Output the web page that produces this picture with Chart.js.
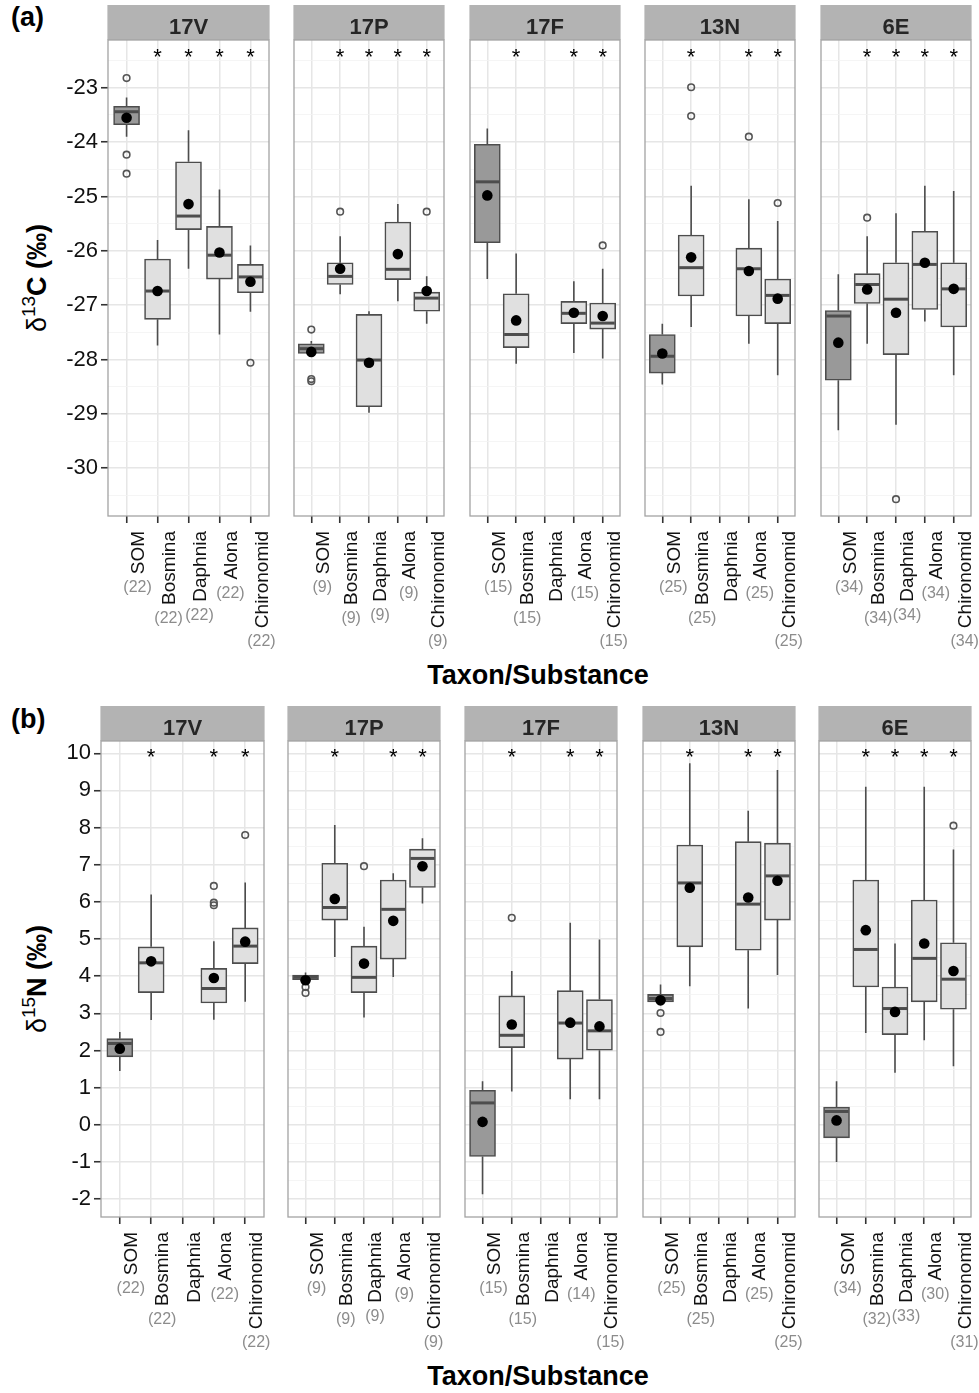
<!DOCTYPE html>
<html>
<head>
<meta charset="utf-8">
<title>Stable isotopes by taxon and site</title>
<script src="https://cdn.jsdelivr.net/npm/chart.js@4.4.1/dist/chart.umd.min.js"></script>
<style>
  html, body { margin: 0; padding: 0; background: #fff; }
  body { position: relative; width: 979px; height: 1393px; overflow: hidden;
         font-family: "Liberation Sans", Arial, Helvetica, sans-serif; color: #000; }
  canvas { position: absolute; }
  .tag { position: absolute; font-weight: bold; font-size: 27px; line-height: 27px; }
  .xtitle { position: absolute; width: 400px; margin-left: -200px; text-align: center;
            font-weight: bold; font-size: 27px; line-height: 27px; }
  .ytitle { position: absolute; white-space: nowrap; font-weight: bold; font-size: 27px; line-height: 27px;
            transform: translate(-50%, -50%) rotate(-90deg); }
  .ytitle .delta { font-weight: normal; }
  .ytitle .sup { font-size: 19px; position: relative; top: -11px; font-weight: normal; }
</style>
</head>
<body>
<div class="tag" style="left:11px;top:4px">(a)</div>
<div class="tag" style="left:11px;top:706px">(b)</div>
<div class="ytitle" style="left:38px;top:278px"><span class="delta">δ</span><span class="sup">13</span>C (‰)</div>
<div class="ytitle" style="left:38px;top:979px"><span class="delta">δ</span><span class="sup">15</span>N (‰)</div>
<div class="xtitle" style="left:538px;top:662px">Taxon/Substance</div>
<div class="xtitle" style="left:538px;top:1363px">Taxon/Substance</div>

<script>
const sites = ['17V', '17P', '17F', '13N', '6E'];
const taxa = ['SOM', 'Bosmina', 'Daphnia', 'Alona', 'Chironomid'];

// (a) d13C - one row per site, one column per taxon, null = no sample
const c13Low = [
  [-23.90, -27.74, -26.33, -27.54, -27.12],
  [-27.92, -26.80, -28.98, -26.93, -27.34],
  [-26.52, -28.08, null, -27.88, -27.98],
  [-28.46, -27.40, null, -27.71, -28.29],
  [-29.30, -27.71, -29.20, -27.30, -28.29]
];
const c13Q1 = [
  [-23.68, -27.26, -25.61, -26.52, -26.77],
  [-27.89, -26.62, -28.87, -26.53, -27.11],
  [-25.85, -27.78, null, -27.34, -27.44],
  [-28.25, -26.83, null, -27.20, -27.34],
  [-28.38, -26.97, -27.91, -27.08, -27.40]
];
const c13Median = [
  [-23.44, -26.74, -25.36, -26.08, -26.48],
  [-27.80, -26.47, -28.01, -26.34, -26.87],
  [-24.73, -27.54, null, -27.15, -27.33],
  [-27.94, -26.31, null, -26.33, -26.82],
  [-27.20, -26.62, -26.89, -26.25, -26.70]
];
const c13Q3 = [
  [-23.34, -26.15, -24.36, -25.55, -26.25],
  [-27.71, -26.22, -27.17, -25.47, -26.76],
  [-24.04, -26.79, null, -26.93, -26.96],
  [-27.54, -25.71, null, -25.95, -26.52],
  [-27.10, -26.42, -26.22, -25.64, -26.22]
];
const c13High = [
  [-23.18, -25.80, -23.78, -24.87, -25.90],
  [-27.66, -25.73, -27.11, -25.14, -26.47],
  [-23.75, -26.05, null, -26.56, -26.33],
  [-27.34, -24.80, null, -25.05, -25.45],
  [-26.43, -25.73, -25.31, -24.80, -24.90]
];
const c13Mean = [
  [-23.55, -26.74, -25.14, -26.03, -26.57],
  [-27.86, -26.33, -28.06, -26.06, -26.74],
  [-24.98, -27.28, null, -27.14, -27.20],
  [-27.89, -26.12, null, -26.37, -26.88],
  [-27.69, -26.71, -27.14, -26.22, -26.70]
];
const c13Outliers = [
  [[-22.82, -24.23, -24.58], [], [], [], [-28.06]],
  [[-27.45, -28.36, -28.40], [-25.28], [], [], [-25.28]],
  [[], [], [], [], [-25.90]],
  [[], [-22.99, -23.52], [], [-23.90], [-25.12]],
  [[], [-25.39], [-30.57], [], []]
];
const c13Stars = [
  [0, 1, 1, 1, 1],
  [0, 1, 1, 1, 1],
  [0, 1, 0, 1, 1],
  [0, 1, 0, 1, 1],
  [0, 1, 1, 1, 1]
];
const c13Counts = [
  [22, 22, 22, 22, 22],
  [9, 9, 9, 9, 9],
  [15, 15, null, 15, 15],
  [25, 25, null, 25, 25],
  [34, 34, 34, 34, 34]
];
const c13TickValues = [-30, -29, -28, -27, -26, -25, -24, -23];
const c13Range = [-30.88, -22.12];
const c13StarLevel = -22.34;

// (b) d15N
const n15Low = [
  [1.45, 2.82, null, 2.83, 3.31],
  [3.91, 4.52, 2.89, 3.98, 5.96],
  [-1.87, 0.90, null, 0.69, 0.69],
  [3.31, 3.73, null, 3.13, 4.03],
  [-1.00, 2.47, 1.40, 2.28, 1.58]
];
const n15Q1 = [
  [1.83, 3.56, null, 3.28, 4.34],
  [3.91, 5.51, 3.56, 4.46, 6.39],
  [-0.85, 2.08, null, 1.77, 2.01],
  [3.31, 4.79, null, 4.70, 5.51],
  [-0.35, 3.71, 2.43, 3.31, 3.11]
];
const n15Median = [
  [2.19, 4.36, null, 3.67, 4.81],
  [3.98, 5.85, 3.97, 5.80, 7.17],
  [0.59, 2.41, null, 2.74, 2.53],
  [3.40, 6.51, null, 5.94, 6.70],
  [0.36, 4.72, 3.13, 4.48, 3.92]
];
const n15Q3 = [
  [2.32, 4.79, null, 4.21, 5.30],
  [4.03, 7.04, 4.81, 6.59, 7.42],
  [0.93, 3.47, null, 3.61, 3.37],
  [3.51, 7.53, null, 7.62, 7.58],
  [0.48, 6.59, 3.71, 6.05, 4.90]
];
const n15High = [
  [2.50, 6.20, null, 4.94, 6.52],
  [4.10, 8.07, 5.33, 6.77, 7.71],
  [1.17, 4.14, null, 5.44, 4.99],
  [3.78, 9.73, null, 8.45, 9.55],
  [1.17, 9.10, 4.88, 9.10, 7.41]
];
const n15Mean = [
  [2.05, 4.40, null, 3.95, 4.93],
  [3.89, 6.08, 4.34, 5.49, 6.96],
  [0.08, 2.70, null, 2.75, 2.65],
  [3.35, 6.38, null, 6.12, 6.57],
  [0.12, 5.24, 3.04, 4.88, 4.14]
];
const n15Outliers = [
  [[], [], [], [6.43, 5.98, 5.91], [7.80]],
  [[3.71, 3.55], [], [6.96], [], []],
  [[], [5.57], [], [], []],
  [[3.01, 2.50], [], [], [], []],
  [[], [], [], [], [8.05]]
];
const n15Stars = [
  [0, 1, 0, 1, 1],
  [0, 1, 0, 1, 1],
  [0, 1, 0, 1, 1],
  [0, 1, 0, 1, 1],
  [0, 1, 1, 1, 1]
];
const n15Counts = [
  [22, 22, null, 22, 22],
  [9, 9, 9, 9, 9],
  [15, 15, null, 14, 15],
  [25, 25, null, 25, 25],
  [34, 32, 33, 30, 31]
];
const n15TickValues = [-2, -1, 0, 1, 2, 3, 4, 5, 6, 7, 8, 9, 10];
const n15Range = [-2.48, 10.33];
const n15StarLevel = 10.06;

// look
const FONT = '"Liberation Sans", Arial, Helvetica, sans-serif';
const EDGE = '#4d4d4d';
const SOM_FILL = '#999999';
const TAXON_FILL = '#e0e0e0';
const GRID_MAJOR = '#e6e6e6';
const GRID_MINOR = '#f2f2f2';
const BORDER = '#a3a3a3';
const STRIP_FILL = '#b3b3b3';
const STRIP_TEXT = '#262626';
const TICK_COLOR = '#333333';
const LABEL_COLOR = '#111111';
const COUNT_COLOR = '#8c8c8c';
const STRIP_H = 35;
const Y_AXIS_W = 48;
const PAD_R = 18;
const CANVAS_H = 660;
const X_AXIS_H = 130;
const TICK_LEN = 7;
const X_LABEL_PAD = 8;
const LABEL_SIZE = 19;

const rows = [
  { low: c13Low, q1: c13Q1, med: c13Median, q3: c13Q3, high: c13High, mean: c13Mean,
    out: c13Outliers, stars: c13Stars, counts: c13Counts, tickValues: c13TickValues,
    range: c13Range, starLevel: c13StarLevel,
    canvasTop: 0, chartTop: 40, chartBottom: 516, lefts: [108, 283, 459, 634, 810], width: 161 },
  { low: n15Low, q1: n15Q1, med: n15Median, q3: n15Q3, high: n15High, mean: n15Mean,
    out: n15Outliers, stars: n15Stars, counts: n15Counts, tickValues: n15TickValues,
    range: n15Range, starLevel: n15StarLevel,
    canvasTop: 700, chartTop: 741, chartBottom: 1217, lefts: [101, 277, 454, 632, 808], width: 163 }
];

Chart.defaults.font.family = FONT;

function isMajor(ctx) {
  return ctx.tick && Number.isInteger(ctx.tick.value);
}

// integer ticks plus half-unit minor ticks inside the range
function yTicks(values, min, max) {
  const list = values.map(v => v);
  values.forEach(v => {
    [v - 0.5, v + 0.5].forEach(m => {
      if (m > min && m < max && list.indexOf(m) < 0) list.push(m);
    });
  });
  return list.sort((a, b) => a - b).map(v => ({ value: v }));
}

function drawPanel(row, p) {
  const first = p === 0;
  const axisW = first ? Y_AXIS_W : 0;
  const padL = first ? row.lefts[0] - Y_AXIS_W : 4;
  const canvasLeft = first ? 0 : row.lefts[p] - padL;
  const width = padL + axisW + row.width + PAD_R;
  const padTop = row.chartTop - row.canvasTop;
  const padBottom = CANVAS_H - (row.chartBottom - row.canvasTop) - X_AXIS_H;

  const canvas = document.createElement('canvas');
  canvas.width = width;
  canvas.height = CANVAS_H;
  canvas.style.left = canvasLeft + 'px';
  canvas.style.top = row.canvasTop + 'px';
  canvas.style.width = width + 'px';
  canvas.style.height = CANVAS_H + 'px';
  document.body.appendChild(canvas);

  const present = taxa.map((t, i) => i).filter(i => row.q1[p][i] !== null);

  const whiskerPts = [];
  present.forEach(i => {
    whiskerPts.push({ x: i, y: row.low[p][i] }, { x: i, y: row.q1[p][i] }, { x: i, y: null });
    whiskerPts.push({ x: i, y: row.q3[p][i] }, { x: i, y: row.high[p][i] }, { x: i, y: null });
  });
  const outlierPts = [];
  present.forEach(i => row.out[p][i].forEach(v => outlierPts.push({ x: i, y: v })));

  const decor = {
    id: 'decor',
    beforeDraw(chart) {
      const a = chart.chartArea, ctx = chart.ctx;
      ctx.save();
      ctx.fillStyle = STRIP_FILL;
      ctx.fillRect(a.left - 0.6, a.top - STRIP_H, a.right - a.left + 1.2, STRIP_H);
      ctx.fillStyle = STRIP_TEXT;
      ctx.font = 'bold 22px ' + FONT;
      ctx.textAlign = 'center';
      ctx.textBaseline = 'alphabetic';
      ctx.fillText(sites[p], (a.left + a.right) / 2, a.top - 6);
      ctx.restore();
    },
    afterDatasetsDraw(chart) {
      const a = chart.chartArea, ctx = chart.ctx;
      const xs = chart.scales.x, ys = chart.scales.y;
      ctx.save();
      ctx.fillStyle = '#000';
      ctx.font = '22px ' + FONT;
      ctx.textAlign = 'center';
      ctx.textBaseline = 'alphabetic';
      row.stars[p].forEach((s, i) => {
        if (s) ctx.fillText('*', xs.getPixelForValue(i), ys.getPixelForValue(row.starLevel) + 12.5);
      });
      ctx.strokeStyle = BORDER;
      ctx.lineWidth = 1.3;
      ctx.strokeRect(a.left, a.top, a.right - a.left, a.bottom - a.top);
      ctx.restore();
    },
    afterDraw(chart) {
      // sample sizes under the rotated taxon names
      const ctx = chart.ctx, xs = chart.scales.x;
      ctx.save();
      ctx.textAlign = 'center';
      ctx.textBaseline = 'middle';
      ctx.fillStyle = COUNT_COLOR;
      row.counts[p].forEach((n, i) => {
        if (n === null) return;
        ctx.font = LABEL_SIZE + 'px ' + FONT;
        const w = ctx.measureText(taxa[i]).width;
        ctx.font = '16px ' + FONT;
        const y = xs.top + TICK_LEN + X_LABEL_PAD + w + 13.5;
        ctx.fillText('(' + n + ')', xs.getPixelForValue(i) + 11, y);
      });
      ctx.restore();
    }
  };

  new Chart(canvas, {
    type: 'bar',
    data: {
      datasets: [
        {
          type: 'line',
          data: whiskerPts,
          borderColor: EDGE,
          borderWidth: 1.6,
          pointRadius: 0,
          spanGaps: false,
          fill: false,
          order: 5
        },
        {
          type: 'bar',
          data: present.map(i => ({ x: i, y: [row.q1[p][i], row.q3[p][i]] })),
          backgroundColor: present.map(i => (i === 0 ? SOM_FILL : TAXON_FILL)),
          borderColor: EDGE,
          borderWidth: 1.6,
          borderSkipped: false,
          barThickness: 26,
          order: 4
        },
        {
          type: 'scatter',
          data: present.map(i => ({ x: i, y: row.med[p][i] })),
          pointStyle: 'line',
          pointRadius: 12,
          pointBorderWidth: 3,
          pointBorderColor: EDGE,
          order: 3
        },
        {
          type: 'scatter',
          data: outlierPts,
          pointStyle: 'circle',
          pointRadius: 3.3,
          pointBorderWidth: 1.6,
          pointBorderColor: '#555555',
          pointBackgroundColor: 'rgba(255,255,255,0)',
          order: 2
        },
        {
          type: 'scatter',
          data: present.map(i => ({ x: i, y: row.mean[p][i] })),
          pointStyle: 'circle',
          pointRadius: 5.3,
          pointBorderWidth: 0,
          pointBackgroundColor: '#000000',
          order: 1
        }
      ]
    },
    options: {
      responsive: false,
      animation: false,
      events: [],
      layout: { padding: { left: padL, right: PAD_R, top: padTop, bottom: padBottom } },
      plugins: { legend: { display: false }, tooltip: { enabled: false } },
      scales: {
        x: {
          type: 'linear',
          min: -0.6,
          max: 4.6,
          bounds: 'data',
          offset: false,
          afterBuildTicks: s => { s.ticks = taxa.map((t, i) => ({ value: i })); },
          afterFit: s => { s.height = X_AXIS_H; },
          grid: {
            offset: false,
            color: GRID_MAJOR,
            lineWidth: 1.5,
            drawTicks: true,
            tickLength: TICK_LEN,
            tickColor: TICK_COLOR,
            tickWidth: 1.6
          },
          border: { display: false },
          ticks: {
            autoSkip: false,
            minRotation: 90,
            maxRotation: 90,
            padding: X_LABEL_PAD,
            labelOffset: 12,
            color: LABEL_COLOR,
            font: { size: LABEL_SIZE, family: FONT },
            callback: (v, i) => taxa[i]
          }
        },
        y: {
          type: 'linear',
          min: row.range[0],
          max: row.range[1],
          bounds: 'data',
          beginAtZero: false,
          afterBuildTicks: s => { s.ticks = yTicks(row.tickValues, row.range[0], row.range[1]); },
          afterFit: s => { s.width = axisW; },
          grid: {
            color: c => (isMajor(c) ? GRID_MAJOR : GRID_MINOR),
            lineWidth: c => (isMajor(c) ? 1.5 : 0.8),
            drawTicks: first,
            tickLength: TICK_LEN,
            tickColor: c => (isMajor(c) ? TICK_COLOR : 'rgba(0,0,0,0)'),
            tickWidth: 1.6
          },
          border: { display: false },
          ticks: {
            display: first,
            padding: 3,
            color: LABEL_COLOR,
            font: { size: 22, family: FONT },
            callback: v => (Number.isInteger(v) ? String(v) : '')
          }
        }
      }
    },
    plugins: [decor]
  });
}

rows.forEach(row => sites.forEach((s, p) => drawPanel(row, p)));
</script>
</body>
</html>
